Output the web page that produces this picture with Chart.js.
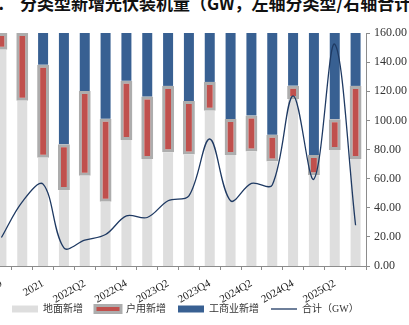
<!DOCTYPE html>
<html>
<head>
<meta charset="utf-8">
<script src="https://cdn.jsdelivr.net/npm/chart.js@4"></script>
<style>
    html, body { margin: 0; padding: 0; background: #fff; }
    body { width: 409px; height: 325px; position: relative; overflow: hidden; }
    .titulo {
        position: absolute; top: -6px;
        font: bold 17px "Noto Sans CJK SC", sans-serif;
        line-height: 17px; color: #111; white-space: nowrap;
    }
    #titulo-num { right: 405px; }
    #titulo { left: 20px; }
    #grafico { position: absolute; left: -9px; top: 0; }
</style>
</head>
<body>
<div class="titulo" id="titulo-num">图表2.</div>
<div class="titulo" id="titulo">分类型新增光伏装机量（GW，左轴分类型/右轴合计）</div>
<canvas id="grafico" width="420" height="335"></canvas>
<script>
// categorias (la primera queda medio cortada a la izquierda)
const periodos = ['2019', '2020', '2021', '2022Q1', '2022Q2', '2022Q3', '2022Q4', '2023Q1', '2023Q2',
    '2023Q3', '2023Q4', '2024Q1', '2024Q2', '2024Q3', '2024Q4', '2025Q1', '2025Q2', '2025Q3'];

// participacion por tipo (%), eje izquierdo (oculto)
const dimian = [92.8, 70.9, 46.5, 32.6, 38.7, 27.6, 54.1, 45.9, 48.8, 47.9, 66.6, 47.6, 49.1, 44.8, 71.7, 39.0, 49.8, 45.9];
const huyong = [7.2, 29.1, 39.9, 19.7, 36.4, 35.6, 25.4, 26.8, 28.5, 22.9, 12.4, 15.5, 15.5, 11.5, 5.7, 8.6, 13.2, 31.4];
const gongshang = [0, 0, 13.6, 47.7, 24.9, 36.8, 20.5, 27.3, 22.7, 29.2, 21.0, 36.9, 35.4, 43.7, 22.6, 52.4, 37.0, 22.7];

// total GW, eje derecho
const heji = [19.6, 44.1, 56.2, 12.4, 17.7, 21.6, 34.4, 33.3, 44.8, 48.2, 87.2, 44.8, 56.7, 55.6, 116.8, 59.7, 152.4, 28.0];

const ejeDerMax = 160;
const ejeDerPaso = 20;

const serif = "'Liberation Serif', 'Times New Roman', serif";

// acomoda la leyenda donde esta en la imagen
const moverLeyenda = {
    id: 'moverLeyenda',
    afterLayout(chart) {
        const l = chart.legend;
        const dx = 9;
        const dy = 292 - l.top;
        l.left += dx; l.right += dx;
        l.top += dy; l.bottom += dy;
    }
};

const ctx = document.getElementById('grafico').getContext('2d');

new Chart(ctx, {
    data: {
        labels: periodos,
        datasets: [
            {
                type: 'bar',
                label: '地面新增',
                data: dimian,
                yAxisID: 'yP',
                backgroundColor: '#dedede',
                borderWidth: 0,
                categoryPercentage: 1,
                barPercentage: 0.48,
                pointStyle: 'rect',
            },
            {
                type: 'bar',
                label: '户用新增',
                data: huyong,
                yAxisID: 'yP',
                backgroundColor: '#c0504d',
                borderColor: '#adadad',
                borderWidth: 3,
                borderSkipped: false,
                categoryPercentage: 1,
                barPercentage: 0.57,
                pointStyle: 'rect',
            },
            {
                type: 'bar',
                label: '工商业新增',
                data: gongshang,
                yAxisID: 'yP',
                backgroundColor: '#386092',
                borderWidth: 0,
                categoryPercentage: 1,
                barPercentage: 0.48,
                pointStyle: 'rect',
            },
            {
                type: 'line',
                label: '合计（GW）',
                data: heji,
                yAxisID: 'y',
                borderColor: '#1f3a63',
                backgroundColor: '#1f3a63',
                borderWidth: 1.3,
                pointRadius: 0,
                tension: 0.35,
                fill: false,
                order: -1,
                pointStyle: 'line',
            },
        ],
    },
    options: {
        responsive: false,
        animation: false,
        devicePixelRatio: 1,
        layout: { padding: { top: 33, left: 0, right: 0, bottom: 0 } },
        plugins: {
            tooltip: { enabled: false },
            legend: {
                position: 'bottom',
                align: 'start',
                labels: {
                    usePointStyle: true,
                    pointStyleWidth: 26,
                    boxHeight: 7,
                    padding: 12,
                    color: '#333',
                    font: { size: 10, family: "'Liberation Serif', 'Noto Sans CJK SC', serif" },
                    sort: (a, b) => a.datasetIndex - b.datasetIndex,
                },
            },
        },
        scales: {
            x: {
                stacked: true,
                offset: true,
                border: { color: '#8c8c8c' },
                grid: { display: true, drawOnChartArea: false, offset: true, tickLength: 4, color: '#8c8c8c' },
                ticks: {
                    autoSkip: false,
                    minRotation: 30,
                    maxRotation: 30,
                    padding: 7,
                    color: '#222',
                    font: { size: 11, family: serif },
                    callback: function (v, i) {
                        return i % 2 === 0 ? this.getLabelForValue(v) : '';
                    },
                },
                afterFit: (scale) => {
                    scale.height = 37;
                    scale.paddingLeft = 0;
                    scale.paddingRight = 0;
                },
            },
            yP: {
                display: false,
                stacked: true,
                min: 0,
                max: 100,
            },
            y: {
                position: 'right',
                min: 0,
                max: ejeDerMax,
                border: { color: '#8c8c8c' },
                grid: { display: true, drawOnChartArea: false, tickLength: 4, color: '#8c8c8c' },
                ticks: {
                    stepSize: ejeDerPaso,
                    padding: 4,
                    color: '#333',
                    font: { size: 12, family: serif },
                    callback: (v) => v.toFixed(2),
                },
            },
        },
    },
    plugins: [moverLeyenda],
});
</script>
</body>
</html>
